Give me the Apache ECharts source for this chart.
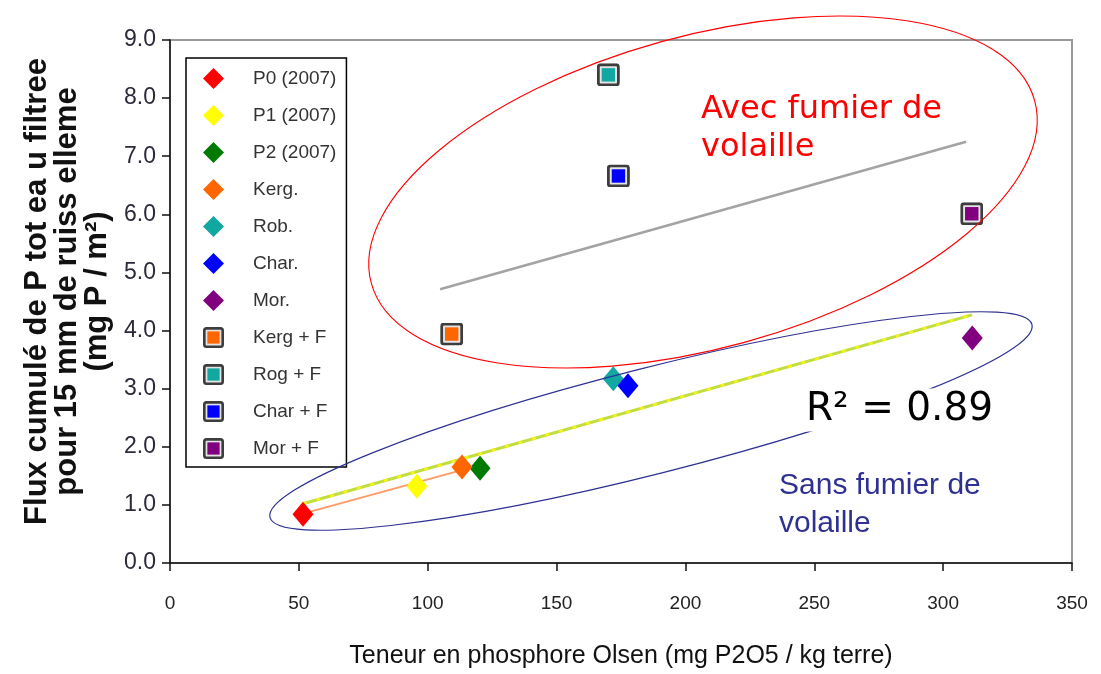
<!DOCTYPE html>
<html><head><meta charset="utf-8">
<script src="https://cdn.jsdelivr.net/npm/echarts@6/dist/echarts.min.js"></script>
<style>html,body{margin:0;padding:0;background:#fff}#c{width:1101px;height:674px}</style>
</head><body><div id="c"></div>
<script>
// ---- data ----
const seriesNames = ['P0 (2007)', 'P1 (2007)', 'P2 (2007)', 'Kerg.', 'Rob.', 'Char.', 'Mor.', 'Kerg + F', 'Rog + F', 'Char + F', 'Mor + F'];
const p0_2007 = [[51.6, 0.84]];
const p1_2007 = [[95.8, 1.32]];
const p2_2007 = [[120.3, 1.63]];
const kerg = [[113.3, 1.65]];
const rob = [[172.0, 3.17]];
const charr = [[177.7, 3.05]];
const mor = [[311.3, 3.87]];
const kergF = [[109.3, 3.94]];
const rogF = [[170.1, 8.40]];
const charF = [[174.0, 6.66]];
const morF = [[311.1, 6.01]];
const trendAvec = [[104.8, 4.71], [308.9, 7.25]];
const trendSans = [[51.6, 1.02], [311.2, 4.27]];
const trendOrange = [[51.6, 0.85], [112.5, 1.59]];
const xTickValues = [0, 50, 100, 150, 200, 250, 300, 350];
const yTickLabels = ['0.0', '1.0', '2.0', '3.0', '4.0', '5.0', '6.0', '7.0', '8.0', '9.0'];
const xAxisTitle = 'Teneur en phosphore Olsen (mg P2O5 / kg terre)';
const yAxisTitle = 'Flux cumulé de P tot ea u filtree\npour 15 mm de ruiss elleme\n(mg P / m²)';
const r2Text = 'R² = 0.89';
const avecText = 'Avec fumier de\nvolaille';
const sansText = 'Sans fumier de\nvolaille';

// ---- styles ----
function squareSymbol(color) {
  const svg = '<svg xmlns="http://www.w3.org/2000/svg" width="24" height="24" viewBox="0 0 24 24">' +
    '<rect x="1.5" y="1.5" width="21" height="21" rx="2.5" ry="2.5" fill="#e4e4e4" stroke="#3d3d3d" stroke-width="3"/>' +
    '<rect x="5" y="5" width="14" height="14" fill="' + color + '"/></svg>';
  return 'image://data:image/svg+xml;charset=utf-8,' + encodeURIComponent(svg);
}
const diamondSize = [21, 25];
const squareSize = [23, 23];
function diamondSeries(name, data, color) {
  return { name: name, type: 'scatter', data: data, symbol: 'diamond', symbolSize: diamondSize,
    itemStyle: { color: color, opacity: 1 }, z: 5 };
}
function squareSeries(name, data, color) {
  return { name: name, type: 'scatter', data: data, symbol: squareSymbol(color), symbolSize: squareSize,
    itemStyle: { color: color, opacity: 1 }, z: 5 };
}
function trendSeries(data, color, width, type) {
  return { type: 'line', data: data, symbol: 'none', silent: true, z: 2,
    lineStyle: { color: color, width: width, type: type || 'solid' } };
}

const chart = echarts.init(document.getElementById('c'), null, { renderer: 'canvas' });
const option = {
  animation: false,
  backgroundColor: '#fff',
  grid: { left: 170, right: 29, top: 40, bottom: 108, show: true, borderColor: '#9a9a9a', borderWidth: 2, backgroundColor: 'transparent' },
  legend: {
    data: seriesNames, orient: 'vertical', left: 186, top: 58,
    padding: [10, 10, 8, 17], itemGap: 16, itemWidth: 21, itemHeight: 21,
    borderColor: '#000', borderWidth: 1.5, backgroundColor: '#fff',
    selectedMode: false,
    textStyle: { fontFamily: 'Liberation Sans', fontSize: 19, color: '#333', padding: [0, 0, 0, 24] }
  },
  xAxis: {
    type: 'value', min: xTickValues[0], max: xTickValues[xTickValues.length - 1], interval: xTickValues[1] - xTickValues[0],
    axisLine: { show: true, onZero: false, lineStyle: { color: '#111', width: 1.5 } },
    axisTick: { show: true, inside: false, length: 8, lineStyle: { color: '#111', width: 1.5 } },
    axisLabel: { margin: 31, fontFamily: 'Liberation Sans', fontSize: 19, color: '#222' },
    splitLine: { show: false },
    name: xAxisTitle, nameLocation: 'middle', nameGap: 81,
    nameTextStyle: { fontFamily: 'Liberation Sans', fontSize: 25, color: '#111' }
  },
  yAxis: {
    type: 'value', min: 0, max: yTickLabels.length - 1, interval: 1,
    axisLine: { show: true, onZero: false, lineStyle: { color: '#111', width: 1.5 } },
    axisTick: { show: true, inside: false, length: 8, lineStyle: { color: '#111', width: 1.5 } },
    axisLabel: { margin: 14, fontFamily: 'Liberation Sans', fontSize: 23, color: '#2a2a3a',
      formatter: function (v) { return yTickLabels[Math.round(v)]; } },
    splitLine: { show: false },
    name: yAxisTitle, nameLocation: 'middle', nameRotate: 90, nameGap: 57,
    nameTextStyle: { fontFamily: 'Liberation Sans', fontSize: 31, fontWeight: 'bold', lineHeight: 30, color: '#111',
      padding: [0, 0, 0, 20] }
  },
  series: [
    trendSeries(trendAvec, '#a3a3a3', 2.5),
    trendSeries(trendSans, '#c2dd3e', 3),
    trendSeries(trendSans, '#f2f21e', 3, [4, 10]),
    trendSeries(trendOrange, '#ff9a66', 2),
    diamondSeries(seriesNames[0], p0_2007, '#ff0000'),
    diamondSeries(seriesNames[1], p1_2007, '#ffff00'),
    diamondSeries(seriesNames[2], p2_2007, '#007a00'),
    diamondSeries(seriesNames[3], kerg, '#ff6600'),
    diamondSeries(seriesNames[4], rob, '#10a8a0'),
    diamondSeries(seriesNames[5], charr, '#0000ff'),
    diamondSeries(seriesNames[6], mor, '#800080'),
    squareSeries(seriesNames[7], kergF, '#ff6600'),
    squareSeries(seriesNames[8], rogF, '#10a8a0'),
    squareSeries(seriesNames[9], charF, '#0000ff'),
    squareSeries(seriesNames[10], morF, '#800080')
  ],
  graphic: [
    { type: 'ellipse', x: 703, y: 192, rotation: 15.4 * Math.PI / 180, silent: true, z: 100,
      shape: { cx: 0, cy: 0, rx: 344, ry: 156 }, style: { fill: 'none', stroke: '#ff0000', lineWidth: 1.1 } },
    { type: 'ellipse', x: 651, y: 421, rotation: 14.2 * Math.PI / 180, silent: true, z: 100,
      shape: { cx: 0, cy: 0, rx: 393, ry: 53 }, style: { fill: 'none', stroke: '#2e3192', lineWidth: 1.2 } },
    { type: 'text', x: 802, y: 410, silent: true, z: 101,
      style: { text: r2Text, fontFamily: 'DejaVu Sans', fontSize: 39, fill: '#000', backgroundColor: '#fff',
        padding: [2, 4, 2, 4], align: 'left', verticalAlign: 'middle' } },
    { type: 'text', x: 701, y: 129, silent: true, z: 101,
      style: { text: avecText, fontFamily: 'DejaVu Sans', fontSize: 32, lineHeight: 38, fill: '#ff0000', align: 'left', verticalAlign: 'middle' } },
    { type: 'text', x: 779, y: 505, silent: true, z: 101,
      style: { text: sansText, fontFamily: 'Liberation Sans', fontSize: 30, lineHeight: 38, fill: '#2e3192', align: 'left', verticalAlign: 'middle' } }
  ]
};
chart.setOption(option);
</script></body></html>
